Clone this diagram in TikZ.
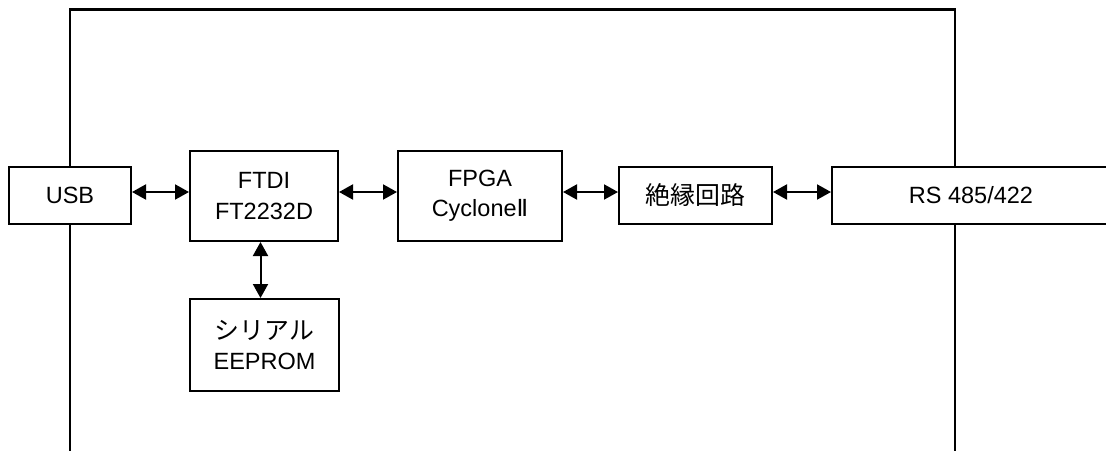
\documentclass[tikz,border=0pt]{standalone}
\usepackage{fontspec}
\setmainfont{Liberation Sans}
\newfontfamily\jp{Noto Sans CJK JP}[Scale=1.06]
\newfontfamily\djv{DejaVu Sans}
\usetikzlibrary{arrows.meta}
\newcommand{\romtwo}{{\djv Ⅱ}}
\begin{document}
\begin{tikzpicture}[x=1pt,y=-1pt,
  blk/.style={draw,line width=2pt,fill=white,inner sep=0pt,align=center,
    font=\fontsize{23.5}{30.3}\selectfont},
  link/.style={line width=2pt,{Triangle[length=14pt,width=15pt]}-{Triangle[length=14pt,width=15pt]}},
  frame/.style={line width=2.4pt}]
\useasboundingbox (0,0) rectangle (1106,450);
\clip (0,0) rectangle (1106,450);
\coordinate (fl) at (70,452);
\coordinate (fr) at (955,452);
\draw[frame] (fl) -- (70,9.5) -- (955,9.5) -- (fr);
\node[blk,minimum width=122pt,minimum height=57pt] (usb) at (70,195.5) {USB};
\node[blk,minimum width=148pt,minimum height=90pt] (ftdi) at (264,196) {FTDI\\FT2232D};
\node[blk,minimum width=164pt,minimum height=90pt] (fpga) at (480,196) {FPGA\\Cyclone\romtwo};
\node[blk,minimum width=153pt,minimum height=57pt] (iso) at (695.5,195.5) {\jp 絶縁回路};
\node[blk,minimum width=278pt,minimum height=57pt] (rs) at (971,195.5) {RS 485/422};
\node[blk,minimum width=149pt,minimum height=92pt] (eep) at (264.5,345) {{\jp シリアル}\\EEPROM};
\draw[link] ([yshift=3.5pt]usb.east) -- ([yshift=3.5pt]usb.east -| ftdi.west);
\draw[link] ([yshift=4pt]ftdi.east) -- ([yshift=4pt]ftdi.east -| fpga.west);
\draw[link] ([yshift=4pt]fpga.east) -- ([yshift=4pt]fpga.east -| iso.west);
\draw[link] ([yshift=3.5pt]iso.east) -- ([yshift=3.5pt]iso.east -| rs.west);
\draw[link] ([xshift=-3.5pt]ftdi.south) -- ([xshift=-3.5pt]ftdi.south |- eep.north);
\end{tikzpicture}
\end{document}
